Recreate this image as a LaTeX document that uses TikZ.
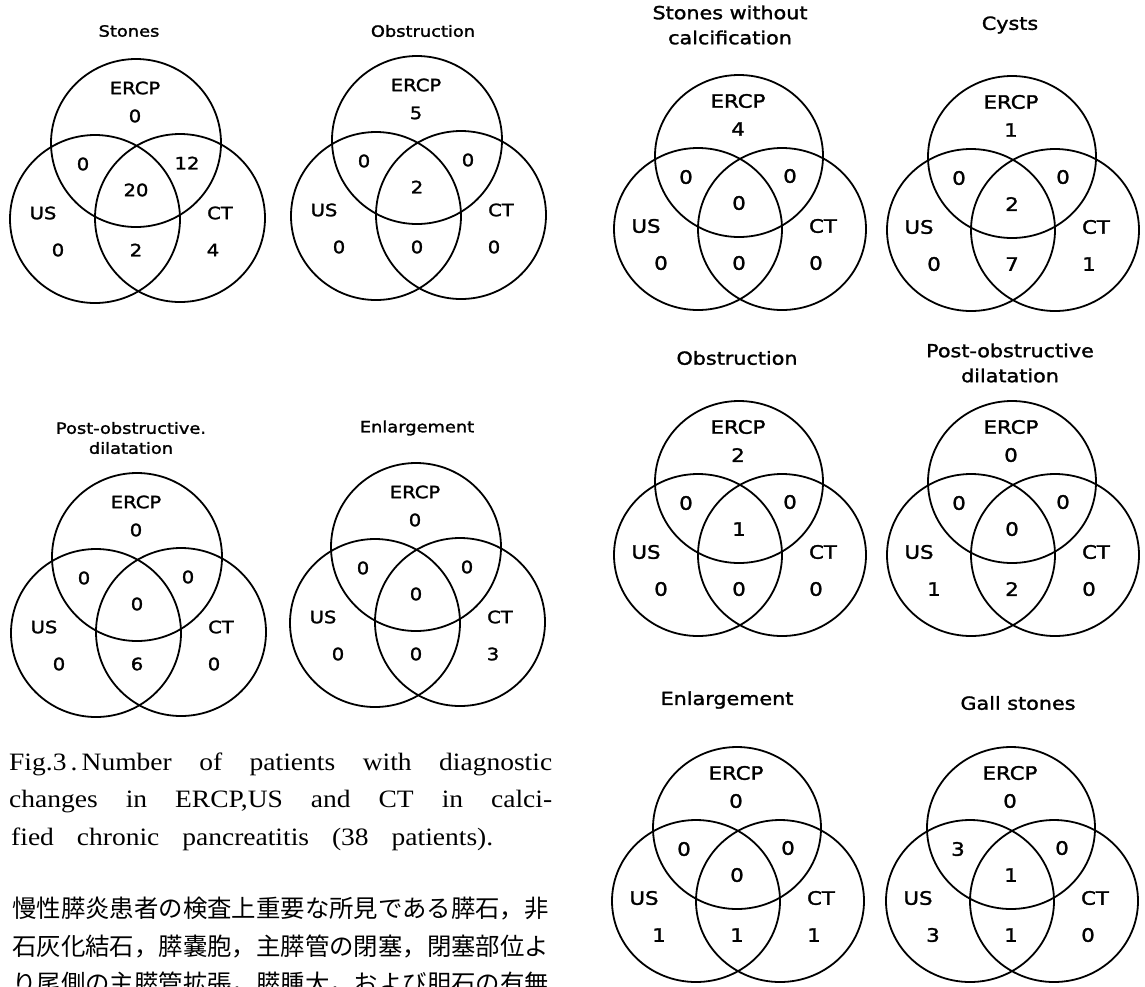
\documentclass[tikz,border=0pt]{standalone}
\usepackage{fontspec}
\newfontfamily\lab[FakeStretch=1.15,FakeBold=1.6]{DejaVu Sans}
\newfontfamily\capfont[FakeStretch=1.1]{Liberation Serif}
\newfontfamily\jpfont{Noto Sans CJK JP}
\usetikzlibrary{positioning}

\tikzset{
  ring/.style={draw, line width=1.8pt},
  lbl/.style={font=\lab\fontsize{17}{19}\selectfont, inner sep=0pt},
  ttl/.style={font=\lab\fontsize{15.5}{20}\selectfont, align=center, inner sep=0pt},
  capline/.style={font=\capfont\fontsize{25}{28}\selectfont, inner sep=0pt, anchor=base west},
  jpline/.style={font=\jpfont\fontsize{24.4}{28}\selectfont, inner sep=0pt, anchor=west}
}

% #1 name, #2 centre of ERCP circle, #3-#9 counts:
% ERCP, ERCP+US, ERCP+CT, all, US, US+CT, CT
\newcommand{\venn}[9]{%
  \begin{scope}[shift={(#2)}]
    \coordinate (#1-e) at (0,0);
    \coordinate (#1-u) at (\ux,\uy);
    \coordinate (#1-c) at (\cx,\cy);
    \draw[ring] (#1-e) ellipse [x radius=\rx, y radius=\ry];
    \draw[ring] (#1-u) ellipse [x radius=\rx, y radius=\ry];
    \draw[ring] (#1-c) ellipse [x radius=\rx, y radius=\ry];
    \node[lbl] (#1-el) at (-1,-55) {ERCP};
    \node[lbl] (#1-ul) at (-93,70) {US};
    \node[lbl] (#1-cl) at (84,70) {CT};
    \node[lbl] (#1-n1) at (-1,-27) {#3};
    \node[lbl] (#1-n2) at (-53,21) {#4};
    \node[lbl] (#1-n3) at (51,20) {#5};
    \node[lbl] (#1-n4) at (0,47) {#6};
    \node[lbl] (#1-n5) at (-78,107) {#7};
    \node[lbl] (#1-n6) at (0,107) {#8};
    \node[lbl] (#1-n7) at (77,107) {#9};
  \end{scope}}

\begin{document}
\begin{tikzpicture}[x=1pt, y=-1pt]
  \useasboundingbox (0,0) rectangle (1145,986);

  % Left column (calcified)
  \begin{scope}
    \def\rx{85pt}\def\ry{84pt}
    \def\ux{-41}\def\uy{76}\def\cx{44}\def\cy{75}
    \node[ttl] (l1-t) at (129,31) {Stones};
    \node[ttl] (l2-t) at (423,31) {Obstruction};
    \node[ttl] (l3-t) at (131,438) {Post-obstructive.\\dilatation};
    \node[ttl] (l4-t) at (417,428) {Enlargement};
    \venn{l1}{136,143}{0}{0}{12}{20}{0}{2}{4}
    \venn{l2}{417,140}{5}{0}{0}{2}{0}{0}{0}
    \venn{l3}{137,557}{0}{0}{0}{0}{0}{6}{0}
    \venn{l4}{416,547}{0}{0}{0}{0}{0}{0}{3}
  \end{scope}

  % Right column
  \begin{scope}[lbl/.style={font=\lab\fontsize{18.5}{20}\selectfont, inner sep=0pt},
      ttl/.style={font=\lab\fontsize{18}{25}\selectfont, align=center, inner sep=0pt}]
    \def\rx{84pt}\def\ry{81pt}
    \def\ux{-41}\def\uy{73}\def\cx{43}\def\cy{73}
    \node[ttl] (r1-t) at (730,25) {Stones without\\calcification};
    \node[ttl] (r2-t) at (1010,25) {Cysts};
    \node[ttl] (r3-t) at (737,358) {Obstruction};
    \node[ttl] (r4-t) at (1010,363) {Post-obstructive\\dilatation};
    \node[ttl] (r5-t) at (727,700) {Enlargement};
    \node[ttl] (r6-t) at (1018,703) {Gall stones};
    \venn{r1}{739,156}{4}{0}{0}{0}{0}{0}{0}
    \venn{r2}{1012,157}{1}{0}{0}{2}{0}{7}{1}
    \venn{r3}{739,482}{2}{0}{0}{1}{0}{0}{0}
    \venn{r4}{1012,482}{0}{0}{0}{0}{1}{2}{0}
    \venn{r5}{737,828}{0}{0}{0}{0}{1}{1}{1}
    \venn{r6}{1011,828}{0}{3}{0}{1}{3}{1}{0}
  \end{scope}

  % Caption
  \node[capline] (cap1) at (9,770) {\makebox[543pt][s]{Fig.3\,.\,Number of patients with diagnostic}};
  \node[capline] (cap2) at (9,807) {\makebox[543pt][s]{changes in ERCP,US and CT in calci-}};
  \node[capline] (cap3) at (11,845) {\makebox[482pt][s]{fied chronic pancreatitis (38 patients).}};

  % Body text
  \node[jpline] (jp1) at (12,909) {慢性膵炎患者の検査上重要な所見である膵石，非};
  \node[jpline] (jp2) at (12,946) {石灰化結石，膵嚢胞，主膵管の閉塞，閉塞部位よ};
  \node[jpline] (jp3) at (12,983) {り尾側の主膵管拡張，膵腫大，および胆石の有無};
\end{tikzpicture}
\end{document}
